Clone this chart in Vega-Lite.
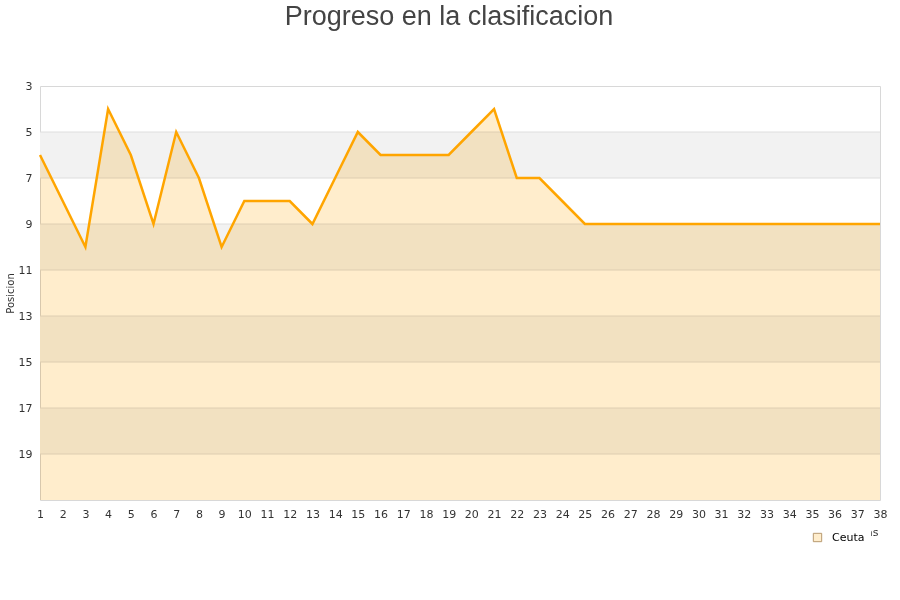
{
  "$schema": "https://vega.github.io/schema/vega-lite/v6.json",
  "width": 840,
  "height": 414,
  "autosize": {"type": "none"},
  "padding": {"left": 40, "top": 86, "right": 20, "bottom": 100},
  "background": "white",
  "title": {
    "text": "Progreso en la clasificacion",
    "anchor": "middle",
    "frame": "group",
    "font": "Liberation Sans",
    "fontSize": 27,
    "fontWeight": "normal",
    "color": "#444444",
    "offset": 49,
    "dx": -11
  },
  "config": {
    "view": {"stroke": "#d8d8d8", "strokeWidth": 1},
    "axis": {"labelFont": "DejaVu Sans", "titleFont": "DejaVu Sans", "labelColor": "#333333", "titleColor": "#333333"},
    "axisX": {"labelOverlap": false, "labelFlush": false}
  },
  "datasets": {
    "bandas": [
      {"desde": 5, "hasta": 7},
      {"desde": 9, "hasta": 11},
      {"desde": 13, "hasta": 15},
      {"desde": 17, "hasta": 19}
    ],
    "lineas": [
      {"pos": 5}, {"pos": 7}, {"pos": 9}, {"pos": 11}, {"pos": 13},
      {"pos": 15}, {"pos": 17}, {"pos": 19}
    ],
    "progreso": [
      {"jornada": 1, "posicion": 6, "equipo": "Ceuta"},
      {"jornada": 2, "posicion": 8, "equipo": "Ceuta"},
      {"jornada": 3, "posicion": 10, "equipo": "Ceuta"},
      {"jornada": 4, "posicion": 4, "equipo": "Ceuta"},
      {"jornada": 5, "posicion": 6, "equipo": "Ceuta"},
      {"jornada": 6, "posicion": 9, "equipo": "Ceuta"},
      {"jornada": 7, "posicion": 5, "equipo": "Ceuta"},
      {"jornada": 8, "posicion": 7, "equipo": "Ceuta"},
      {"jornada": 9, "posicion": 10, "equipo": "Ceuta"},
      {"jornada": 10, "posicion": 8, "equipo": "Ceuta"},
      {"jornada": 11, "posicion": 8, "equipo": "Ceuta"},
      {"jornada": 12, "posicion": 8, "equipo": "Ceuta"},
      {"jornada": 13, "posicion": 9, "equipo": "Ceuta"},
      {"jornada": 14, "posicion": 7, "equipo": "Ceuta"},
      {"jornada": 15, "posicion": 5, "equipo": "Ceuta"},
      {"jornada": 16, "posicion": 6, "equipo": "Ceuta"},
      {"jornada": 17, "posicion": 6, "equipo": "Ceuta"},
      {"jornada": 18, "posicion": 6, "equipo": "Ceuta"},
      {"jornada": 19, "posicion": 6, "equipo": "Ceuta"},
      {"jornada": 20, "posicion": 5, "equipo": "Ceuta"},
      {"jornada": 21, "posicion": 4, "equipo": "Ceuta"},
      {"jornada": 22, "posicion": 7, "equipo": "Ceuta"},
      {"jornada": 23, "posicion": 7, "equipo": "Ceuta"},
      {"jornada": 24, "posicion": 8, "equipo": "Ceuta"},
      {"jornada": 25, "posicion": 9, "equipo": "Ceuta"},
      {"jornada": 26, "posicion": 9, "equipo": "Ceuta"},
      {"jornada": 27, "posicion": 9, "equipo": "Ceuta"},
      {"jornada": 28, "posicion": 9, "equipo": "Ceuta"},
      {"jornada": 29, "posicion": 9, "equipo": "Ceuta"},
      {"jornada": 30, "posicion": 9, "equipo": "Ceuta"},
      {"jornada": 31, "posicion": 9, "equipo": "Ceuta"},
      {"jornada": 32, "posicion": 9, "equipo": "Ceuta"},
      {"jornada": 33, "posicion": 9, "equipo": "Ceuta"},
      {"jornada": 34, "posicion": 9, "equipo": "Ceuta"},
      {"jornada": 35, "posicion": 9, "equipo": "Ceuta"},
      {"jornada": 36, "posicion": 9, "equipo": "Ceuta"},
      {"jornada": 37, "posicion": 9, "equipo": "Ceuta"},
      {"jornada": 38, "posicion": 9, "equipo": "Ceuta"}
    ]
  },
  "layer": [
    {
      "data": {"name": "bandas"},
      "mark": {"type": "rect", "fill": "#f2f2f2"},
      "encoding": {
        "y": {
          "field": "desde", "type": "quantitative",
          "scale": {"domain": [3, 21], "reverse": true, "nice": false, "zero": false},
          "axis": {
            "title": "Posicion", "titleFontSize": 10, "titleFontWeight": "normal", "titlePadding": 3,
            "values": [3, 5, 7, 9, 11, 13, 15, 17, 19],
            "labelFontSize": 11, "labelPadding": 8, "ticks": false, "domain": false, "grid": false
          }
        },
        "y2": {"field": "hasta"},
        "x": {
          "datum": 1, "type": "quantitative",
          "scale": {"domain": [1, 38], "nice": false, "zero": false},
          "axis": {
            "title": "Jornadas", "titleFontSize": 11, "titleFontWeight": "normal",
            "titleAnchor": "end", "titleAlign": "right", "titleBaseline": "top",
            "titleX": 838, "titleY": 26,
            "tickCount": 40,
            "values": [1,2,3,4,5,6,7,8,9,10,11,12,13,14,15,16,17,18,19,20,21,22,23,24,25,26,27,28,29,30,31,32,33,34,35,36,37,38],
            "labelFontSize": 11, "labelPadding": 8, "ticks": false, "domain": false, "grid": false
          }
        },
        "x2": {"datum": 38}
      }
    },
    {
      "data": {"name": "lineas"},
      "mark": {"type": "rule", "stroke": "#dedede", "strokeWidth": 1},
      "encoding": {
        "y": {"field": "pos", "type": "quantitative"},
        "x": {"datum": 1, "type": "quantitative"},
        "x2": {"datum": 38}
      }
    },
    {
      "data": {"name": "progreso"},
      "mark": {"type": "area", "blend": "multiply", "interpolate": "linear"},
      "encoding": {
        "x": {"field": "jornada", "type": "quantitative"},
        "y": {"field": "posicion", "type": "quantitative"},
        "y2": {"datum": 21},
        "color": {
          "field": "equipo", "type": "nominal",
          "scale": {"domain": ["Ceuta"], "range": ["#ffedcc"]},
          "legend": {
            "title": null, "orient": "none", "legendX": 766, "legendY": 440,
            "direction": "horizontal", "fillColor": "white", "padding": 6,
            "symbolType": "square", "symbolSize": 70, "symbolStrokeColor": "#b89a70", "symbolStrokeWidth": 1,
            "labelOffset": 9,
            "labelFont": "DejaVu Sans", "labelFontSize": 11, "labelColor": "#000000"
          }
        }
      }
    },
    {
      "data": {"name": "progreso"},
      "mark": {"type": "line", "stroke": "#ffa500", "strokeWidth": 2.5, "interpolate": "linear"},
      "encoding": {
        "x": {"field": "jornada", "type": "quantitative"},
        "y": {"field": "posicion", "type": "quantitative"}
      }
    }
  ]
}
